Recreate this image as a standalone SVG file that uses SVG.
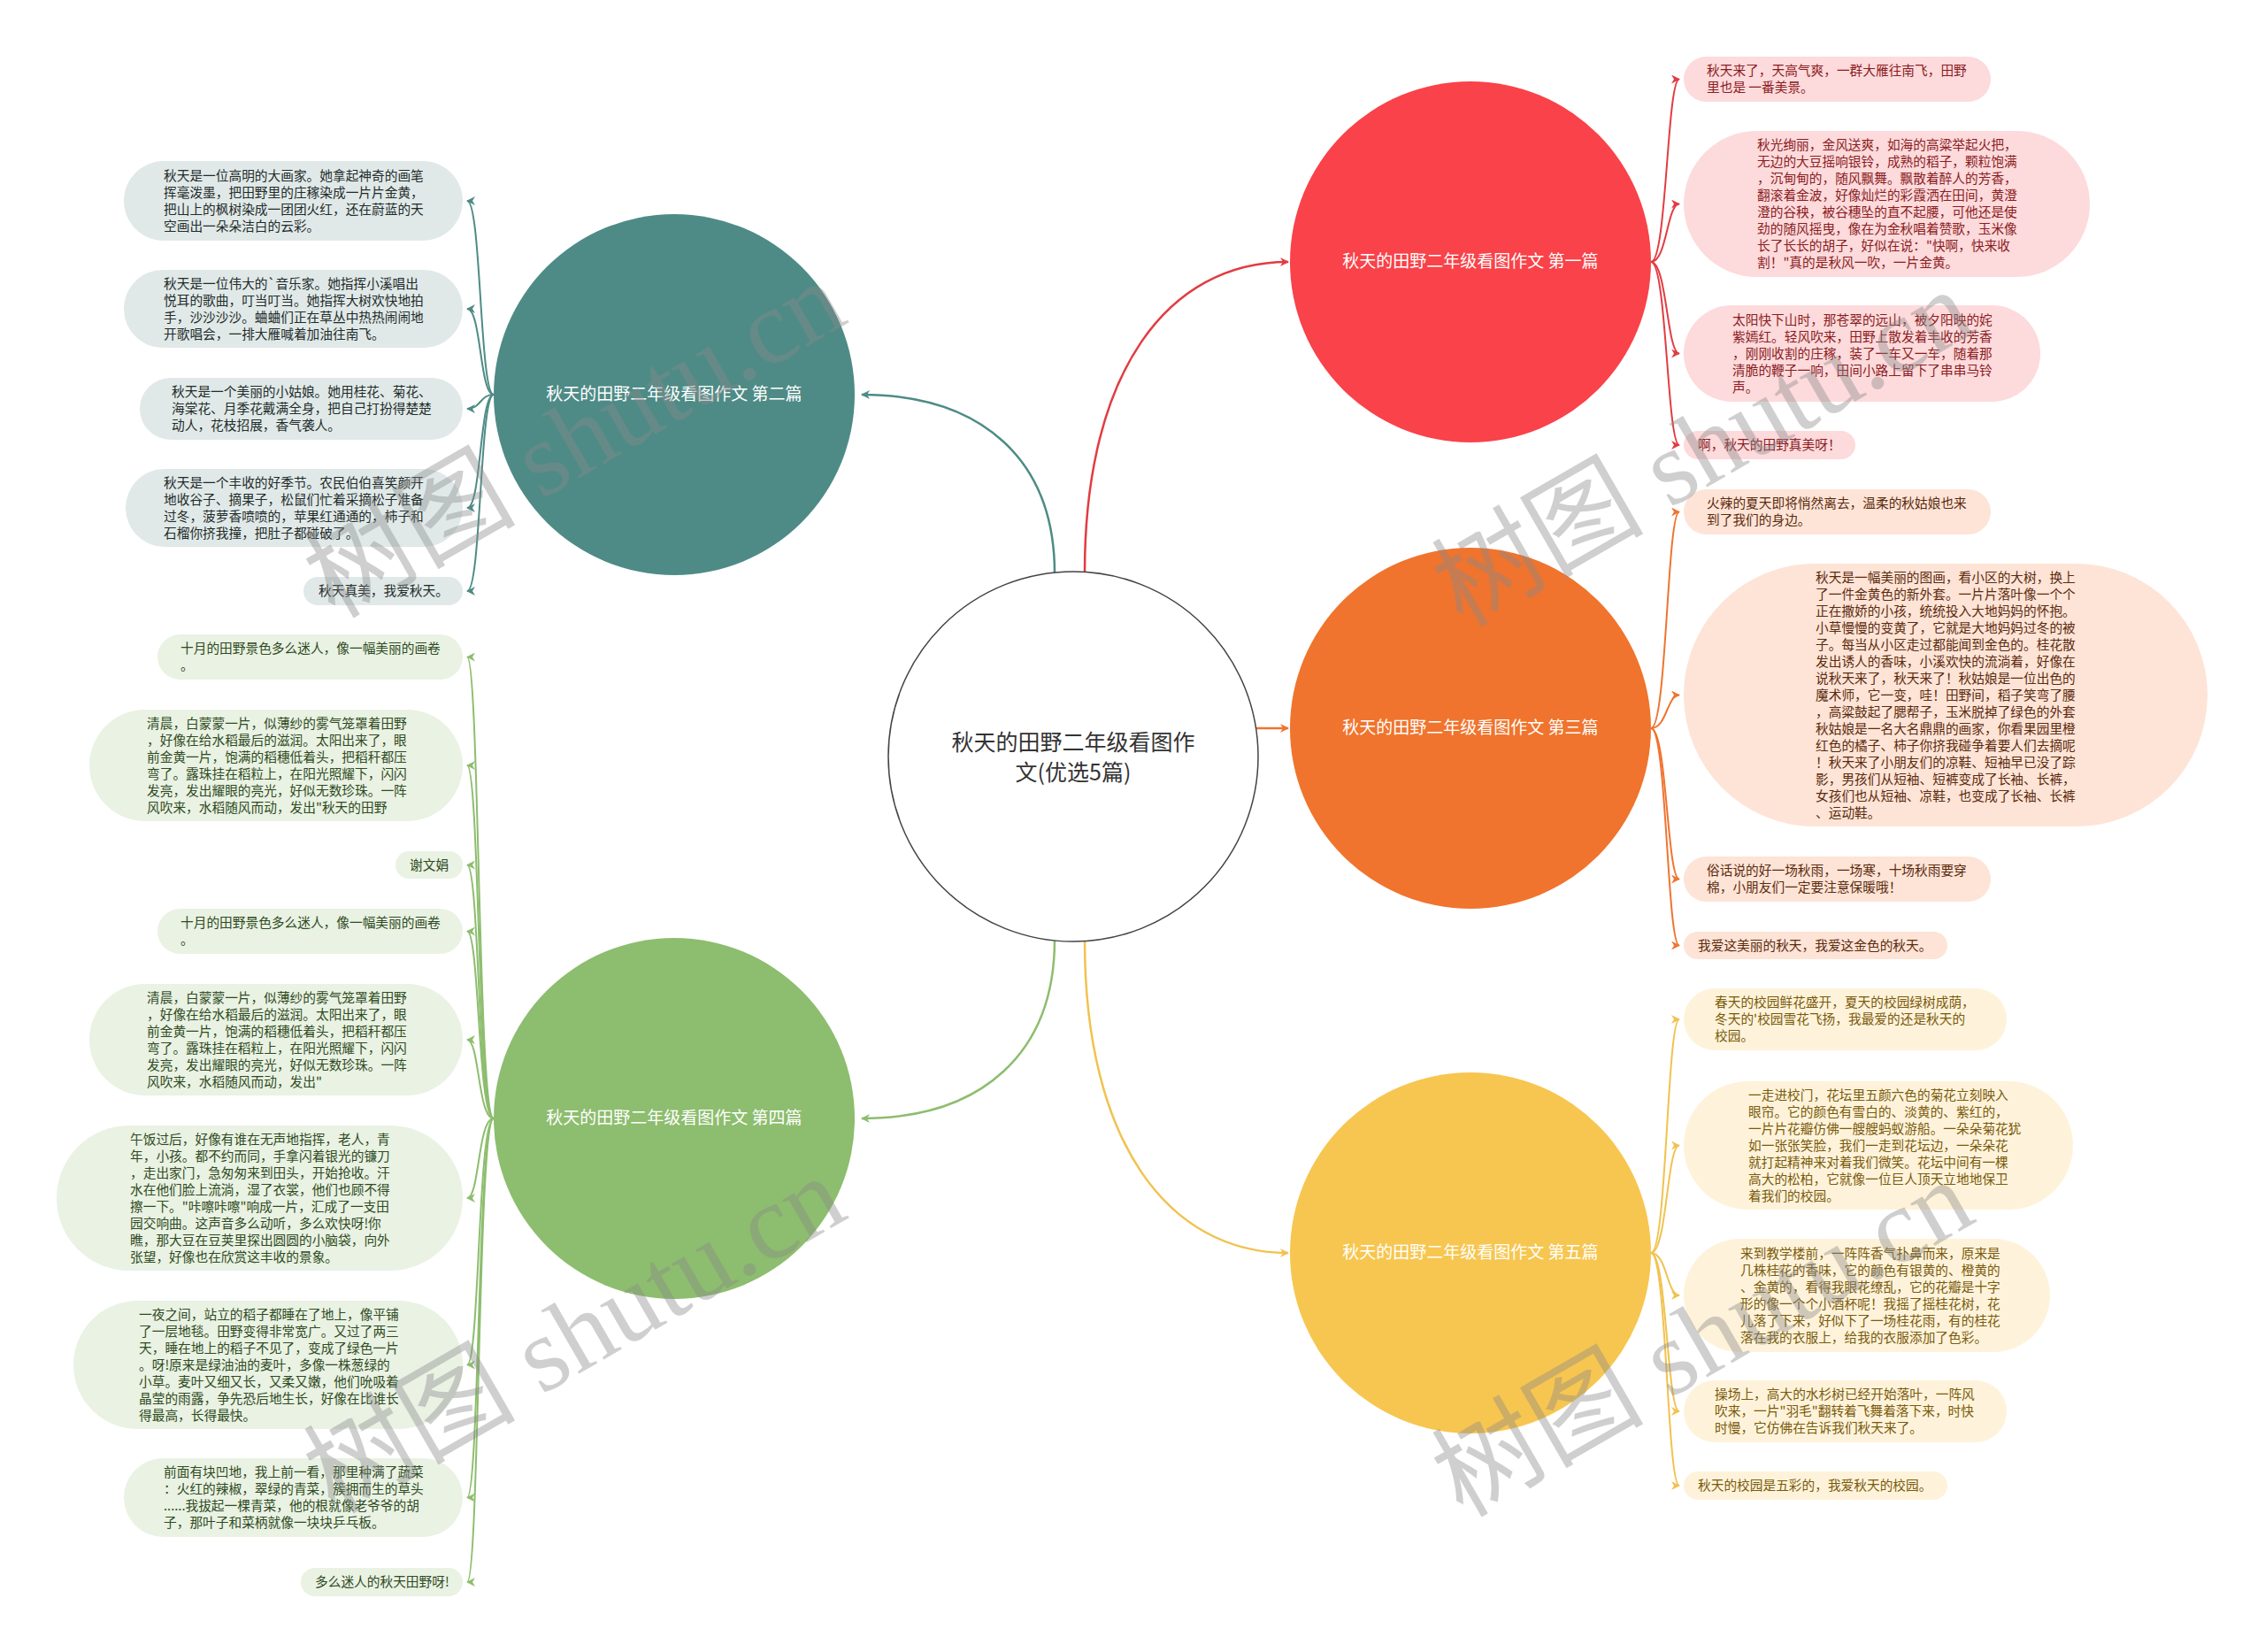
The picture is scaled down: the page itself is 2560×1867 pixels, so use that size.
<svg xmlns="http://www.w3.org/2000/svg" width="2560" height="1867" viewBox="0 0 2560 1867">
<style>
text{font-family:"Noto Sans CJK SC","Liberation Sans",sans-serif}
.lf{font-size:14.7px}
.main{font-size:19px;fill:#fff;text-anchor:middle}
.ctr{font-size:25px;fill:#333;text-anchor:middle}
.wm{font-family:"Liberation Serif","Noto Sans CJK SC",serif;font-size:120px;fill:#8a8a8a;opacity:0.4}
.ct{fill:#e0e9e8}.cg{fill:#e9f2e3}.cr{fill:#fddadb}.co{fill:#fde4d6}.cy{fill:#fef3da}
.tt{fill:#1f2b2a}.tg{fill:#2f4a22}.tr{fill:#8a1c1f}.to{fill:#5c2a0e}.ty{fill:#7a5a0c}
.lnt{stroke:#4e8b86}.lng{stroke:#8dbd6e}.lnr{stroke:#e23c42}.lno{stroke:#ef7430}.lny{stroke:#f1c24f}
#connectors path{fill:none;stroke-width:2}
#connectors .big{stroke-width:2.5}
</style>
<defs>
<marker id="at" viewBox="0 0 10 10" refX="9" refY="5" markerWidth="10" markerHeight="10" markerUnits="userSpaceOnUse" orient="auto"><path d="M0,0 L10,5 L0,10 L3,5 z" fill="#4e8b86"/></marker>
<marker id="ag" viewBox="0 0 10 10" refX="9" refY="5" markerWidth="10" markerHeight="10" markerUnits="userSpaceOnUse" orient="auto"><path d="M0,0 L10,5 L0,10 L3,5 z" fill="#8dbd6e"/></marker>
<marker id="ar" viewBox="0 0 10 10" refX="9" refY="5" markerWidth="10" markerHeight="10" markerUnits="userSpaceOnUse" orient="auto"><path d="M0,0 L10,5 L0,10 L3,5 z" fill="#e23c42"/></marker>
<marker id="ao" viewBox="0 0 10 10" refX="9" refY="5" markerWidth="10" markerHeight="10" markerUnits="userSpaceOnUse" orient="auto"><path d="M0,0 L10,5 L0,10 L3,5 z" fill="#ef7430"/></marker>
<marker id="ay" viewBox="0 0 10 10" refX="9" refY="5" markerWidth="10" markerHeight="10" markerUnits="userSpaceOnUse" orient="auto"><path d="M0,0 L10,5 L0,10 L3,5 z" fill="#f1c24f"/></marker>
</defs>
<rect width="2560" height="1867" fill="#fff"/>

<g id="connectors">
<path class="lnt big" marker-end="url(#at)" d="M1192 648 C1192 520,1110 446,974 446"/>
<path class="lnr big" marker-end="url(#ar)" d="M1226 647 C1226 420,1320 296,1456 296"/>
<path class="lno big" marker-end="url(#ao)" d="M1420 823 L1456 823"/>
<path class="lng big" marker-end="url(#ag)" d="M1192 1062 C1192 1190,1110 1264,974 1264"/>
<path class="lny big" marker-end="url(#ay)" d="M1226 1063 C1226 1290,1320 1416,1456 1416"/>

<path class="lnt" marker-end="url(#at)" d="M558 446 C542 446,544 227,528 227"/>
<path class="lnt" marker-end="url(#at)" d="M558 446 C542 446,544 349,528 349"/>
<path class="lnt" marker-end="url(#at)" d="M558 446 C542 446,544 462,528 462"/>
<path class="lnt" marker-end="url(#at)" d="M558 446 C542 446,544 574,528 574"/>
<path class="lnt" marker-end="url(#at)" d="M558 446 C542 446,544 668,528 668"/>

<path class="lng" marker-end="url(#ag)" d="M558 1264 C540 1264,542 742.5,528 742.5"/>
<path class="lng" marker-end="url(#ag)" d="M558 1264 C540 1264,542 865,528 865"/>
<path class="lng" marker-end="url(#ag)" d="M558 1264 C540 1264,542 977.5,528 977.5"/>
<path class="lng" marker-end="url(#ag)" d="M558 1264 C540 1264,542 1052.5,528 1052.5"/>
<path class="lng" marker-end="url(#ag)" d="M558 1264 C540 1264,542 1175,528 1175"/>
<path class="lng" marker-end="url(#ag)" d="M558 1264 C540 1264,542 1354,528 1354"/>
<path class="lng" marker-end="url(#ag)" d="M558 1264 C540 1264,542 1542.5,528 1542.5"/>
<path class="lng" marker-end="url(#ag)" d="M558 1264 C540 1264,542 1692.5,528 1692.5"/>
<path class="lng" marker-end="url(#ag)" d="M558 1264 C540 1264,542 1788,528 1788"/>

<path class="lnr" marker-end="url(#ar)" d="M1866 296 C1884 296,1884 89.5,1898 89.5"/>
<path class="lnr" marker-end="url(#ar)" d="M1866 296 C1884 296,1884 230.5,1898 230.5"/>
<path class="lnr" marker-end="url(#ar)" d="M1866 296 C1884 296,1884 399.5,1898 399.5"/>
<path class="lnr" marker-end="url(#ar)" d="M1866 296 C1884 296,1884 503,1898 503"/>

<path class="lno" marker-end="url(#ao)" d="M1866 823 C1884 823,1884 578.5,1898 578.5"/>
<path class="lno" marker-end="url(#ao)" d="M1866 823 C1884 823,1884 785.5,1898 785.5"/>
<path class="lno" marker-end="url(#ao)" d="M1866 823 C1884 823,1884 993.5,1898 993.5"/>
<path class="lno" marker-end="url(#ao)" d="M1866 823 C1884 823,1884 1068.5,1898 1068.5"/>

<path class="lny" marker-end="url(#ay)" d="M1866 1416 C1884 1416,1884 1152,1898 1152"/>
<path class="lny" marker-end="url(#ay)" d="M1866 1416 C1884 1416,1884 1294.5,1898 1294.5"/>
<path class="lny" marker-end="url(#ay)" d="M1866 1416 C1884 1416,1884 1464,1898 1464"/>
<path class="lny" marker-end="url(#ay)" d="M1866 1416 C1884 1416,1884 1595,1898 1595"/>
<path class="lny" marker-end="url(#ay)" d="M1866 1416 C1884 1416,1884 1679,1898 1679"/>
</g>

<g id="center">
<circle cx="1213" cy="855" r="209" fill="#fff" stroke="#444" stroke-width="1.5"/>
<text class="ctr" x="1213" y="848">秋天的田野二年级看图作</text>
<text class="ctr" x="1213" y="882">文(优选5篇)</text>
</g>

<g id="n2"><circle cx="762" cy="446" r="204" fill="#4e8b86"/><text class="main" x="762" y="452">秋天的田野二年级看图作文 第二篇</text></g>
<g id="n4"><circle cx="762" cy="1264" r="204" fill="#8dbd6e"/><text class="main" x="762" y="1270">秋天的田野二年级看图作文 第四篇</text></g>
<g id="n1"><circle cx="1662" cy="296" r="204" fill="#f94249"/><text class="main" x="1662" y="302">秋天的田野二年级看图作文 第一篇</text></g>
<g id="n3"><circle cx="1662" cy="823" r="204" fill="#f0742d"/><text class="main" x="1662" y="829">秋天的田野二年级看图作文 第三篇</text></g>
<g id="n5"><circle cx="1662" cy="1416" r="204" fill="#f7c650"/><text class="main" x="1662" y="1422">秋天的田野二年级看图作文 第五篇</text></g>

<g id="t1"><rect class="ct" x="140" y="182" width="383" height="90" rx="45"/><text class="lf tt" y="203.5"><tspan x="185">秋天是一位高明的大画家。她拿起神奇的画笔</tspan><tspan x="185" dy="19">挥毫泼墨，把田野里的庄稼染成一片片金黄，</tspan><tspan x="185" dy="19">把山上的枫树染成一团团火红，还在蔚蓝的天</tspan><tspan x="185" dy="19">空画出一朵朵洁白的云彩。</tspan></text></g>
<g id="t2"><rect class="ct" x="140" y="305" width="383" height="88" rx="44"/><text class="lf tt" y="325.5"><tspan x="185">秋天是一位伟大的`音乐家。她指挥小溪唱出</tspan><tspan x="185" dy="19">悦耳的歌曲，叮当叮当。她指挥大树欢快地拍</tspan><tspan x="185" dy="19">手，沙沙沙沙。蛐蛐们正在草丛中热热闹闹地</tspan><tspan x="185" dy="19">开歌唱会，一排大雁喊着加油往南飞。</tspan></text></g>
<g id="t3"><rect class="ct" x="158" y="427" width="365" height="70" rx="35"/><text class="lf tt" y="448"><tspan x="194">秋天是一个美丽的小姑娘。她用桂花、菊花、</tspan><tspan x="194" dy="19">海棠花、月季花戴满全身，把自己打扮得楚楚</tspan><tspan x="194" dy="19">动人，花枝招展，香气袭人。</tspan></text></g>
<g id="t4"><rect class="ct" x="142" y="530" width="381" height="88" rx="44"/><text class="lf tt" y="550.5"><tspan x="185">秋天是一个丰收的好季节。农民伯伯喜笑颜开</tspan><tspan x="185" dy="19">地收谷子、摘果子，松鼠们忙着采摘松子准备</tspan><tspan x="185" dy="19">过冬，菠萝香喷喷的，苹果红通通的，柿子和</tspan><tspan x="185" dy="19">石榴你挤我撞，把肚子都碰破了。</tspan></text></g>
<g id="t5"><rect class="ct" x="343" y="652" width="180" height="32" rx="16"/><text class="lf tt" x="360" y="673">秋天真美，我爱秋天。</text></g>

<g id="g1"><rect class="cg" x="178" y="717" width="345" height="51" rx="25.5"/><text class="lf tg" y="738"><tspan x="204">十月的田野景色多么迷人，像一幅美丽的画卷</tspan><tspan x="204" dy="19">。</tspan></text></g>
<g id="g2"><rect class="cg" x="101" y="802" width="422" height="126" rx="63"/><text class="lf tg" y="822.5"><tspan x="166">清晨，白蒙蒙一片，似薄纱的雾气笼罩着田野</tspan><tspan x="166" dy="19">，好像在给水稻最后的滋润。太阳出来了，眼</tspan><tspan x="166" dy="19">前金黄一片，饱满的稻穗低着头，把稻秆都压</tspan><tspan x="166" dy="19">弯了。露珠挂在稻粒上，在阳光照耀下，闪闪</tspan><tspan x="166" dy="19">发亮，发出耀眼的亮光，好似无数珍珠。一阵</tspan><tspan x="166" dy="19">风吹来，水稻随风而动，发出"秋天的田野</tspan></text></g>
<g id="g3"><rect class="cg" x="447" y="962" width="76" height="31" rx="15.5"/><text class="lf tg" x="463" y="982.5">谢文娟</text></g>
<g id="g4"><rect class="cg" x="178" y="1027" width="345" height="51" rx="25.5"/><text class="lf tg" y="1048"><tspan x="204">十月的田野景色多么迷人，像一幅美丽的画卷</tspan><tspan x="204" dy="19">。</tspan></text></g>
<g id="g5"><rect class="cg" x="101" y="1112" width="422" height="126" rx="63"/><text class="lf tg" y="1132.5"><tspan x="166">清晨，白蒙蒙一片，似薄纱的雾气笼罩着田野</tspan><tspan x="166" dy="19">，好像在给水稻最后的滋润。太阳出来了，眼</tspan><tspan x="166" dy="19">前金黄一片，饱满的稻穗低着头，把稻秆都压</tspan><tspan x="166" dy="19">弯了。露珠挂在稻粒上，在阳光照耀下，闪闪</tspan><tspan x="166" dy="19">发亮，发出耀眼的亮光，好似无数珍珠。一阵</tspan><tspan x="166" dy="19">风吹来，水稻随风而动，发出"</tspan></text></g>
<g id="g6"><rect class="cg" x="64" y="1272" width="459" height="164" rx="82"/><text class="lf tg" y="1292.5"><tspan x="147">午饭过后，好像有谁在无声地指挥，老人，青</tspan><tspan x="147" dy="19">年，小孩。都不约而同，手拿闪着银光的镰刀</tspan><tspan x="147" dy="19">，走出家门，急匆匆来到田头，开始抢收。汗</tspan><tspan x="147" dy="19">水在他们脸上流淌，湿了衣裳，他们也顾不得</tspan><tspan x="147" dy="19">擦一下。"咔嚓咔嚓"响成一片，汇成了一支田</tspan><tspan x="147" dy="19">园交响曲。这声音多么动听，多么欢快呀!你</tspan><tspan x="147" dy="19">瞧，那大豆在豆荚里探出圆圆的小脑袋，向外</tspan><tspan x="147" dy="19">张望，好像也在欣赏这丰收的景象。</tspan></text></g>
<g id="g7"><rect class="cg" x="83" y="1470" width="440" height="145" rx="72.5"/><text class="lf tg" y="1490.5"><tspan x="157">一夜之间，站立的稻子都睡在了地上，像平铺</tspan><tspan x="157" dy="19">了一层地毯。田野变得非常宽广。又过了两三</tspan><tspan x="157" dy="19">天，睡在地上的稻子不见了，变成了绿色一片</tspan><tspan x="157" dy="19">。呀!原来是绿油油的麦叶，多像一株葱绿的</tspan><tspan x="157" dy="19">小草。麦叶又细又长，又柔又嫩，他们吮吸着</tspan><tspan x="157" dy="19">晶莹的雨露，争先恐后地生长，好像在比谁长</tspan><tspan x="157" dy="19">得最高，长得最快。</tspan></text></g>
<g id="g8"><rect class="cg" x="140" y="1648" width="383" height="89" rx="44.5"/><text class="lf tg" y="1669"><tspan x="185">前面有块凹地，我上前一看，那里种满了蔬菜</tspan><tspan x="185" dy="19">：火红的辣椒，翠绿的青菜，簇拥而生的草头</tspan><tspan x="185" dy="19">......我拔起一棵青菜，他的根就像老爷爷的胡</tspan><tspan x="185" dy="19">子，那叶子和菜柄就像一块块乒乓板。</tspan></text></g>
<g id="g9"><rect class="cg" x="340" y="1772" width="183" height="32" rx="16"/><text class="lf tg" x="356" y="1793">多么迷人的秋天田野呀!</text></g>

<g id="r1"><rect class="cr" x="1903" y="64" width="347" height="51" rx="25.5"/><text class="lf tr" y="85"><tspan x="1929">秋天来了，天高气爽，一群大雁往南飞，田野</tspan><tspan x="1929" dy="19">里也是 一番美景。</tspan></text></g>
<g id="r2"><rect class="cr" x="1903" y="148" width="459" height="165" rx="82.5"/><text class="lf tr" y="169"><tspan x="1986">秋光绚丽，金风送爽，如海的高粱举起火把，</tspan><tspan x="1986" dy="19">无边的大豆摇响银铃，成熟的稻子，颗粒饱满</tspan><tspan x="1986" dy="19">，沉甸甸的，随风飘舞。飘散着醉人的芳香，</tspan><tspan x="1986" dy="19">翻滚着金波，好像灿烂的彩霞洒在田间，黄澄</tspan><tspan x="1986" dy="19">澄的谷秧，被谷穗坠的直不起腰，可他还是使</tspan><tspan x="1986" dy="19">劲的随风摇曳，像在为金秋唱着赞歌，玉米像</tspan><tspan x="1986" dy="19">长了长长的胡子，好似在说："快啊，快来收</tspan><tspan x="1986" dy="19">割！"真的是秋风一吹，一片金黄。</tspan></text></g>
<g id="r3"><rect class="cr" x="1903" y="345" width="403" height="109" rx="54.5"/><text class="lf tr" y="366.5"><tspan x="1958">太阳快下山时，那苍翠的远山，被夕阳映的姹</tspan><tspan x="1958" dy="19">紫嫣红。轻风吹来，田野上散发着丰收的芳香</tspan><tspan x="1958" dy="19">，刚刚收割的庄稼，装了一车又一车，随着那</tspan><tspan x="1958" dy="19">清脆的鞭子一响，田间小路上留下了串串马铃</tspan><tspan x="1958" dy="19">声。</tspan></text></g>
<g id="r4"><rect class="cr" x="1903" y="487" width="194" height="32" rx="16"/><text class="lf tr" x="1919" y="508">啊，秋天的田野真美呀！</text></g>

<g id="o1"><rect class="co" x="1903" y="553" width="347" height="51" rx="25.5"/><text class="lf to" y="574"><tspan x="1929">火辣的夏天即将悄然离去，温柔的秋姑娘也来</tspan><tspan x="1929" dy="19">到了我们的身边。</tspan></text></g>
<g id="o2"><rect class="co" x="1903" y="637" width="592" height="297" rx="148.5"/><text class="lf to" y="657.5"><tspan x="2052">秋天是一幅美丽的图画，看小区的大树，换上</tspan><tspan x="2052" dy="19">了一件金黄色的新外套。一片片落叶像一个个</tspan><tspan x="2052" dy="19">正在撒娇的小孩，统统投入大地妈妈的怀抱。</tspan><tspan x="2052" dy="19">小草慢慢的变黄了，它就是大地妈妈过冬的被</tspan><tspan x="2052" dy="19">子。每当从小区走过都能闻到金色的。桂花散</tspan><tspan x="2052" dy="19">发出诱人的香味，小溪欢快的流淌着，好像在</tspan><tspan x="2052" dy="19">说秋天来了，秋天来了！秋姑娘是一位出色的</tspan><tspan x="2052" dy="19">魔术师，它一变，哇！田野间，稻子笑弯了腰</tspan><tspan x="2052" dy="19">，高粱鼓起了腮帮子，玉米脱掉了绿色的外套</tspan><tspan x="2052" dy="19">秋姑娘是一名大名鼎鼎的画家，你看果园里橙</tspan><tspan x="2052" dy="19">红色的橘子、柿子你挤我碰争着要人们去摘呢</tspan><tspan x="2052" dy="19">！秋天来了小朋友们的凉鞋、短袖早已没了踪</tspan><tspan x="2052" dy="19">影，男孩们从短袖、短裤变成了长袖、长裤，</tspan><tspan x="2052" dy="19">女孩们也从短袖、凉鞋，也变成了长袖、长裤</tspan><tspan x="2052" dy="19">、运动鞋。</tspan></text></g>
<g id="o3"><rect class="co" x="1903" y="968" width="347" height="51" rx="25.5"/><text class="lf to" y="989"><tspan x="1929">俗话说的好一场秋雨，一场寒，十场秋雨要穿</tspan><tspan x="1929" dy="19">棉，小朋友们一定要注意保暖哦！</tspan></text></g>
<g id="o4"><rect class="co" x="1903" y="1053" width="298" height="31" rx="15.5"/><text class="lf to" x="1919" y="1073.5">我爱这美丽的秋天，我爱这金色的秋天。</text></g>

<g id="y1"><rect class="cy" x="1903" y="1117" width="365" height="70" rx="35"/><text class="lf ty" y="1138"><tspan x="1938">春天的校园鲜花盛开，夏天的校园绿树成荫，</tspan><tspan x="1938" dy="19">冬天的'校园雪花飞扬，我最爱的还是秋天的</tspan><tspan x="1938" dy="19">校园。</tspan></text></g>
<g id="y2"><rect class="cy" x="1903" y="1222" width="440" height="145" rx="72.5"/><text class="lf ty" y="1242.5"><tspan x="1976">一走进校门，花坛里五颜六色的菊花立刻映入</tspan><tspan x="1976" dy="19">眼帘。它的颜色有雪白的、淡黄的、紫红的，</tspan><tspan x="1976" dy="19">一片片花瓣仿佛一艘艘蚂蚁游船。一朵朵菊花犹</tspan><tspan x="1976" dy="19">如一张张笑脸，我们一走到花坛边，一朵朵花</tspan><tspan x="1976" dy="19">就打起精神来对着我们微笑。花坛中间有一棵</tspan><tspan x="1976" dy="19">高大的松柏，它就像一位巨人顶天立地地保卫</tspan><tspan x="1976" dy="19">着我们的校园。</tspan></text></g>
<g id="y3"><rect class="cy" x="1903" y="1400" width="414" height="128" rx="64"/><text class="lf ty" y="1421.5"><tspan x="1967">来到教学楼前，一阵阵香气扑鼻而来，原来是</tspan><tspan x="1967" dy="19">几株桂花的香味，它的颜色有银黄的、橙黄的</tspan><tspan x="1967" dy="19">、金黄的，看得我眼花缭乱，它的花瓣是十字</tspan><tspan x="1967" dy="19">形的像一个个小酒杯呢！我摇了摇桂花树，花</tspan><tspan x="1967" dy="19">儿落了下来，好似下了一场桂花雨，有的桂花</tspan><tspan x="1967" dy="19">落在我的衣服上，给我的衣服添加了色彩。</tspan></text></g>
<g id="y4"><rect class="cy" x="1903" y="1560" width="365" height="70" rx="35"/><text class="lf ty" y="1581"><tspan x="1938">操场上，高大的水杉树已经开始落叶，一阵风</tspan><tspan x="1938" dy="19">吹来，一片"羽毛"翻转着飞舞着落下来，时快</tspan><tspan x="1938" dy="19">时慢，它仿佛在告诉我们秋天来了。</tspan></text></g>
<g id="y5"><rect class="cy" x="1903" y="1663" width="298" height="32" rx="16"/><text class="lf ty" x="1919" y="1684">秋天的校园是五彩的，我爱秋天的校园。</text></g>

<g id="watermarks">
<text class="wm" x="378" y="700" transform="rotate(-30 378 700)">树图 shutu.cn</text>
<text class="wm" x="1653" y="710" transform="rotate(-30 1653 710)">树图 shutu.cn</text>
<text class="wm" x="378" y="1712" transform="rotate(-30 378 1712)">树图 shutu.cn</text>
<text class="wm" x="1653" y="1716" transform="rotate(-30 1653 1716)">树图 shutu.cn</text>
</g>
</svg>
